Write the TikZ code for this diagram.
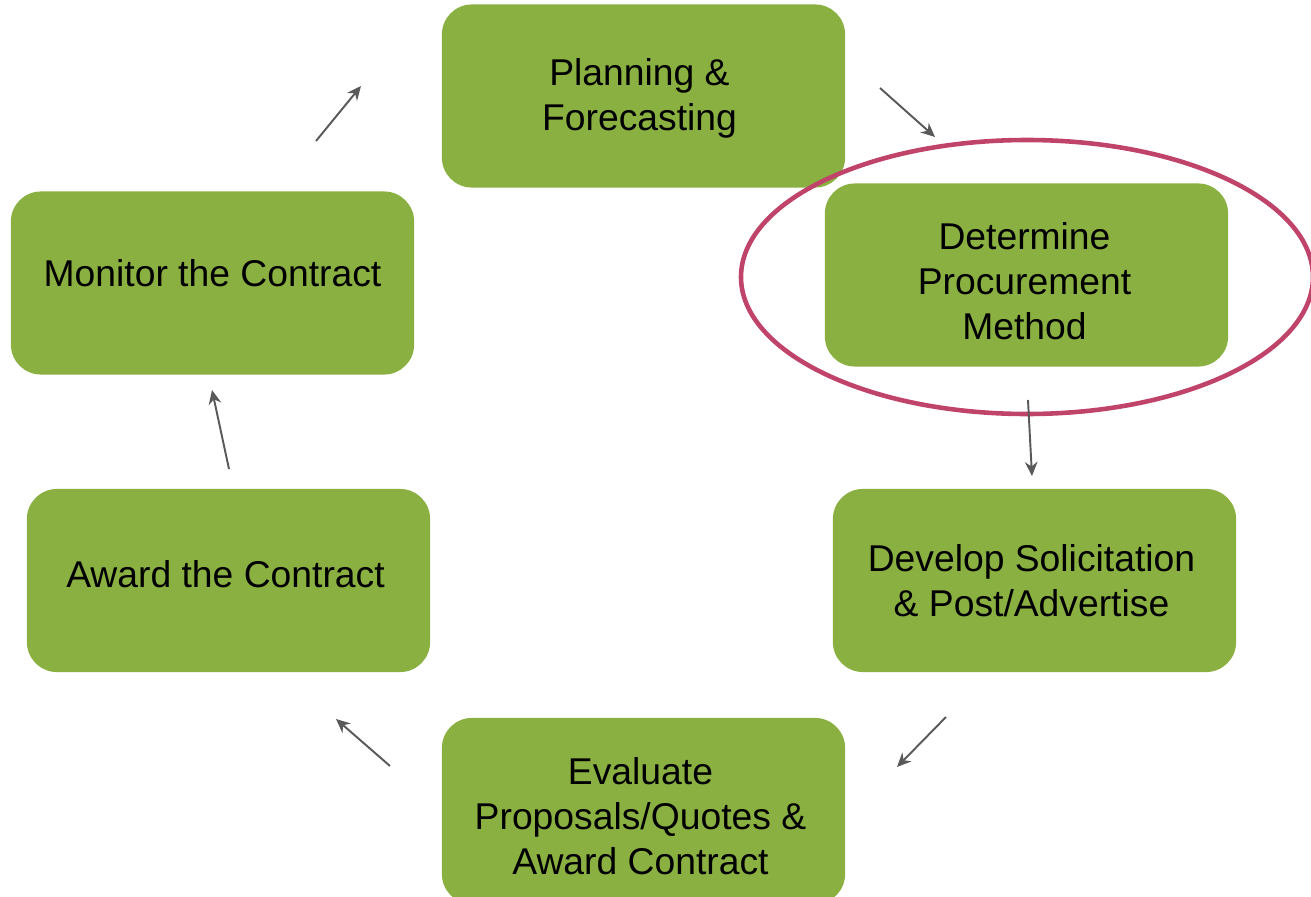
\documentclass[tikz,border=0pt]{standalone}
\usepackage{fontspec}
\setmainfont{Liberation Sans}
\usetikzlibrary{arrows.meta}
\definecolor{boxgreen}{HTML}{8AB042}
\definecolor{arrowgray}{HTML}{595959}
\definecolor{ringred}{HTML}{C0436A}
\begin{document}
\begin{tikzpicture}[x=0.01cm,y=-0.01cm,
  stepbox/.style={draw=none,fill=boxgreen,rounded corners=0.3cm,
    minimum width=4.03cm,minimum height=1.83cm,inner sep=0pt},
  steptext/.style={align=center,inner sep=0pt,
    font=\fontsize{10.6pt}{12.8pt}\selectfont,text=black},
  flow/.style={draw=arrowgray,line width=0.55pt,-{Stealth[length=4pt,width=3.6pt]}}]
\useasboundingbox (0,0) rectangle (1311,897);
\node[stepbox] (plan) at (643.5,96) {};
\node[stepbox] (det) at (1026.5,275) {};
\node[stepbox] (dev) at (1034.5,580.5) {};
\node[stepbox,minimum height=1.86cm] (eval) at (643.5,811) {};
\node[stepbox] (award) at (228.5,580.5) {};
\node[stepbox] (mon) at (212.5,283) {};
\node[steptext] (planT) at (639.5,98) {Planning \&\\Forecasting};
\node[steptext] (detT) at (1024.5,281) {Determine\\Procurement\\Method};
\node[steptext] (devT) at (1031.5,580.5) {Develop Solicitation\\\& Post/Advertise};
\node[steptext] (evalT) at (640.5,816) {Evaluate\\Proposals/Quotes \&\\Award Contract};
\node[steptext] (awardT) at (225.5,574.5) {Award the Contract};
\node[steptext] (monT) at (212.5,273) {Monitor the Contract};
\draw[ringred,line width=1.3pt] (1027,277) ellipse [x radius=286,y radius=137];
\coordinate (a1s) at (316,141); \coordinate (a1e) at (361,86);
\coordinate (a2s) at (880,88); \coordinate (a2e) at (935,137);
\coordinate (a3s) at (1028,400); \coordinate (a3e) at (1032,476);
\coordinate (a4s) at (946,717); \coordinate (a4e) at (897,767);
\coordinate (a5s) at (390,766); \coordinate (a5e) at (336,719);
\coordinate (a6s) at (229,469); \coordinate (a6e) at (212,390);
\draw[flow] (a1s) -- (a1e);
\draw[flow] (a2s) -- (a2e);
\draw[flow] (a3s) -- (a3e);
\draw[flow] (a4s) -- (a4e);
\draw[flow] (a5s) -- (a5e);
\draw[flow] (a6s) -- (a6e);
\end{tikzpicture}
\end{document}
